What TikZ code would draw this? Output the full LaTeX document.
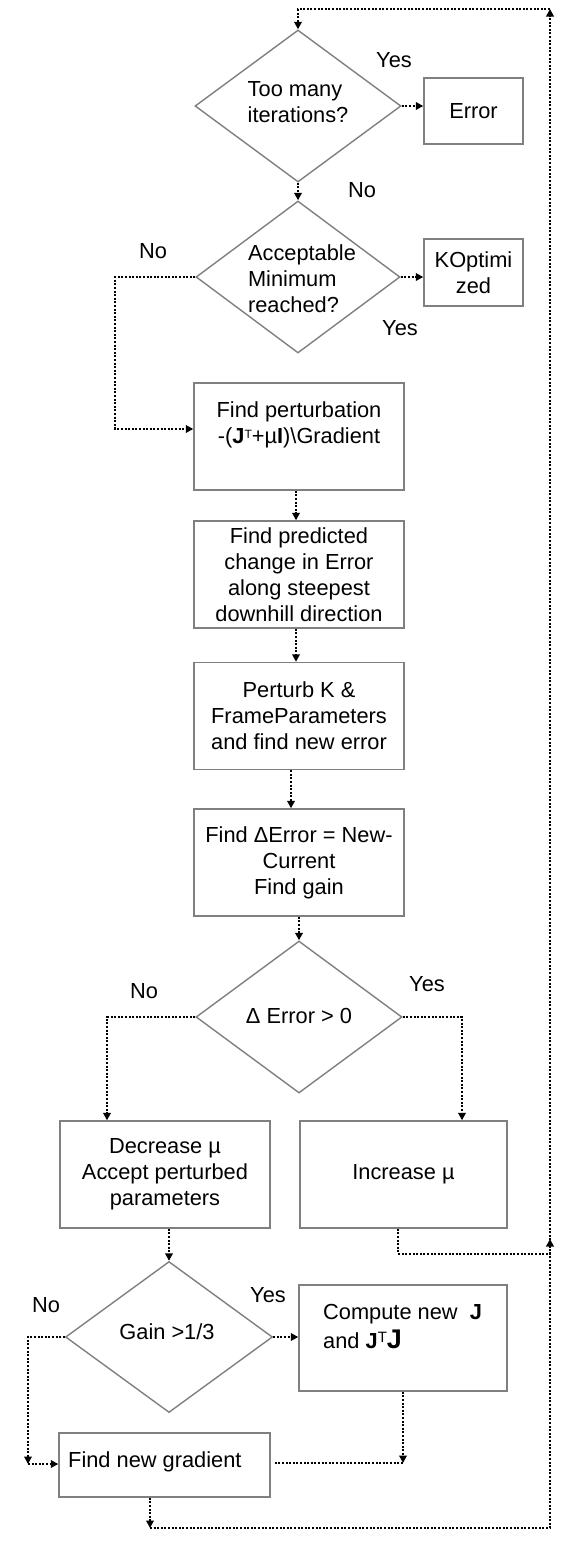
\documentclass[tikz,border=0pt]{standalone}
\usepackage{fontspec}
\setmainfont{Liberation Sans}
\usetikzlibrary{arrows.meta,shapes.geometric}
\definecolor{bordergray}{RGB}{128,128,128}
\newcommand{\mainfs}{\fontsize{21.8}{26}\selectfont}
\begin{document}
\begin{tikzpicture}[x=1pt,y=-1pt,
  box/.style={draw=bordergray,line width=1.4pt,rectangle,inner sep=0pt,font=\mainfs,align=center},
  dia/.style={draw=bordergray,line width=1.4pt,diamond,inner sep=0pt,minimum width=206pt,minimum height=152pt},
  txt/.style={inner sep=0pt,font=\mainfs,align=center},
  txtl/.style={inner sep=0pt,font=\mainfs,align=left},
  arr/.style={line width=2pt,dash pattern=on 2pt off 1.6pt,-{Triangle[length=7.5pt,width=7.5pt]}},
  dotl/.style={line width=2pt,dash pattern=on 2pt off 1.6pt},
]
\useasboundingbox[fill=white] (0,0) rectangle (586,1548);

% decisions
\node[dia] (d1) at (298,106) {};
\node[txtl] (d1t) at (298,102) {Too many\\iterations?};
\node[dia,minimum width=204pt] (d2) at (298,277) {};
\node[txtl] (d2t) at (302,279) {Acceptable\\Minimum\\reached?};
\node[dia] (d3) at (299,1017) {};
\node[txt] (d3t) at (299,1016) {Δ Error > 0};
\node[dia,minimum width=207pt,minimum height=151pt] (gain) at (169,1337) {};
\node[txt] (gaint) at (167,1332) {Gain >1/3};

% boxes
\node[box,minimum width=99pt,minimum height=66pt] (err) at (473.5,111) {Error};
\node[box,minimum width=99pt,minimum height=67pt] (ko) at (473.5,272.5) {KOptimi\\zed};
\node[box,minimum width=210pt,minimum height=107pt] (b1) at (299,436.5) {};
\node[txt] (b1t) at (299,424.5) {Find perturbation\\-(\textbf{J}{\fontsize{12}{12}\selectfont\raisebox{5pt}{T}}+µ\textbf{I})\textbackslash Gradient};
\node[box,minimum width=210pt,minimum height=107pt] (b2) at (299,574.5) {Find predicted\\change in Error\\along steepest\\downhill direction};
\node[box,minimum width=210pt,minimum height=107pt] (b3) at (299,716) {Perturb K \&\\FrameParameters\\and find new error};
\node[box,minimum width=210pt,minimum height=107pt] (b4) at (299,862.5) {Find ΔError = New-\\Current\\Find gain};
\node[box,minimum width=210pt,minimum height=107pt] (dec) at (165,1174.5) {Decrease µ\\Accept perturbed\\parameters};
\node[box,minimum width=207pt,minimum height=107pt] (inc) at (403.5,1174.5) {Increase µ};
\node[box,minimum width=208pt,minimum height=106pt] (cmp) at (403,1338) {};
\node[txtl,anchor=west] (cmpt) at (323,1327) {Compute new\hspace{12pt}\textbf{J}\\[3pt]and \textbf{J}{\fontsize{15}{15}\selectfont\raisebox{6pt}{T}}{\fontsize{27}{27}\selectfont\textbf{J}}};
\node[box,minimum width=211pt,minimum height=64pt] (fng) at (164.5,1465) {};
\node[txtl,anchor=west] (fngt) at (68,1462) {Find new gradient};

% labels
\node[txt] (l1) at (394,60) {Yes};
\node[txt] (l2) at (362,190) {No};
\node[txt] (l3) at (153,251) {No};
\node[txt] (l4) at (400,328) {Yes};
\node[txt] (l5) at (144,991) {No};
\node[txt] (l6) at (427,984) {Yes};
\node[txt] (l7) at (46,1305) {No};
\node[txt] (l8) at (268,1295) {Yes};

% coordinates for the loop
\coordinate (tl) at (298,9);
\coordinate (tr) at (550,9);
\coordinate (br) at (550,1528);
\coordinate (bl) at (150,1528);
\coordinate (ri) at (550,1239);
\coordinate (nc) at (28,1464);
\coordinate (mj) at (403,1463);

% connectors
\draw[arr] (d1.east) -- (d1.east -| err.west);
\draw[arr] (d1.south) -- (d2.north);
\draw[arr] (d2.east) -- (d2.east -| ko.west);
\draw[arr] (d2.west) -- ++(-80,0) |- ([yshift=7.5pt]b1.west);
\draw[arr] ([xshift=-3pt]b1.south) -- ([xshift=-3pt]b2.north);
\draw[arr] ([xshift=-3pt]b2.south) -- ([xshift=-3pt]b3.north);
\draw[arr] ([xshift=-8pt]b3.south) -- ([xshift=-8pt]b4.north);
\draw[arr] (b4.south) -- (d3.north);
\draw[arr] (d3.west) -| ([xshift=-58pt]dec.north);
\draw[arr] (d3.east) -| ([xshift=58.5pt]inc.north);
\draw[arr] ([xshift=-5.5pt]inc.south) -- ++(0,25) -| (ri);
\draw[arr] ([xshift=4pt]dec.south) -- (gain.north);
\draw[arr] (gain.east) -- (gain.east -| cmp.west);
\draw[arr] (gain.west) -| (nc);
\draw[arr] (nc) -- (nc -| fng.west);
\draw[arr] (cmp.south) -- (mj);
\draw[dotl] ([xshift=4pt]fng.east |- mj) -- (mj);
\draw[arr] ([xshift=-14.5pt]fng.south) -- (bl);
\draw[arr] (bl) -- (br) -- (tr);
\draw[arr] (tr) -- (tl) -- (d1.north);
\end{tikzpicture}
\end{document}
